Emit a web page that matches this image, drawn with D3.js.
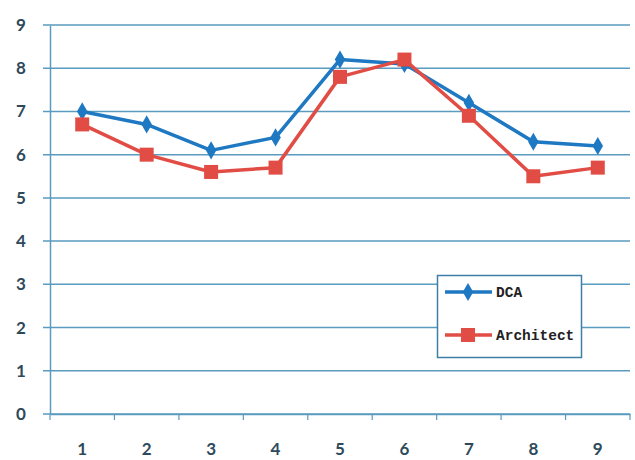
<!DOCTYPE html>
<html><head><meta charset="utf-8">
<script src="https://cdn.jsdelivr.net/npm/d3@7"></script>
<style>body{margin:0;background:#fff;}svg{display:block;}</style>
</head><body>
<script>
const categories = ["1","2","3","4","5","6","7","8","9"];
const dca = [7.0, 6.7, 6.1, 6.4, 8.2, 8.1, 7.2, 6.3, 6.2];
const architect = [6.7, 6.0, 5.6, 5.7, 7.8, 8.2, 6.9, 5.5, 5.7];
const yTicks = [0,1,2,3,4,5,6,7,8,9];
const seriesNames = ["DCA", "Architect"];

const W = 635, H = 460;
const m = {left: 50, right: 5, top: 25, bottom: 46};
const svg = d3.select("body").append("svg").attr("width", W).attr("height", H);
const x = d3.scaleBand().domain(categories).range([m.left, W - m.right]);
const y = d3.scaleLinear().domain([0, 9]).range([H - m.bottom, m.top]);
const gridColor = "#5a9bbf";
const textColor = "#2e4a5a";

// gridlines
svg.append("g").selectAll("line").data(yTicks).join("line")
  .attr("x1", m.left - 7).attr("x2", W - m.right)
  .attr("y1", d => y(d)).attr("y2", d => y(d))
  .attr("stroke", gridColor).attr("stroke-width", 1.5);

// y axis
const ya = svg.append("g").attr("transform", `translate(${m.left},0)`)
  .call(d3.axisLeft(y).tickValues(yTicks).tickSize(0).tickPadding(22));
ya.select(".domain").attr("stroke", gridColor).attr("stroke-width", 1.5);
ya.selectAll("text").attr("fill", textColor).attr("font-family", "Lato, 'Open Sans', sans-serif")
  .attr("font-weight", "bold").attr("font-size", 17).attr("text-anchor", "middle").attr("dx", 0)
  .attr("transform", "translate(-7,0)");

// x axis
const xTickPos = categories.map(c => x(c)).concat([x.range()[1]]);
svg.append("g").selectAll("line").data(xTickPos).join("line")
  .attr("x1", d => d).attr("x2", d => d)
  .attr("y1", y(0)).attr("y2", y(0) + 6)
  .attr("stroke", gridColor).attr("stroke-width", 1.2);
const xa = svg.append("g").attr("transform", `translate(0,${y(0)})`)
  .call(d3.axisBottom(x).tickSize(0).tickPadding(29));
xa.select(".domain").attr("stroke", gridColor).attr("stroke-width", 1.5);
xa.selectAll("text").attr("fill", textColor).attr("font-family", "Lato, 'Open Sans', sans-serif")
  .attr("font-weight", "bold").attr("font-size", 17);

const cx = c => x(c) + x.bandwidth() / 2;
const blue = "#1e78c2", red = "#e14d45";
const line = d3.line().x((d, i) => cx(categories[i])).y(d => y(d));

svg.append("path").datum(dca).attr("d", line).attr("fill", "none")
  .attr("stroke", blue).attr("stroke-width", 3.5).attr("stroke-linejoin", "round");
svg.append("path").datum(architect).attr("d", line).attr("fill", "none")
  .attr("stroke", red).attr("stroke-width", 3.5).attr("stroke-linejoin", "round");

const diamond = d3.symbol().type(d3.symbolDiamond).size(95);
svg.append("g").selectAll("path").data(dca).join("path")
  .attr("d", diamond).attr("fill", blue)
  .attr("transform", (d, i) => `translate(${cx(categories[i])},${y(d)})`);
svg.append("g").selectAll("rect").data(architect).join("rect")
  .attr("x", (d, i) => cx(categories[i]) - 7).attr("y", d => y(d) - 7)
  .attr("width", 14).attr("height", 14).attr("fill", red);

// legend
const lg = svg.append("g");
lg.append("rect").attr("x", 437.5).attr("y", 275.5).attr("width", 144).attr("height", 82)
  .attr("fill", "#fff").attr("stroke", "#3d7fa6").attr("stroke-width", 1.5);
const items = [{name: seriesNames[0], c: blue, ly: 292}, {name: seriesNames[1], c: red, ly: 335}];
items.forEach((it, k) => {
  lg.append("line").attr("x1", 445).attr("x2", 492).attr("y1", it.ly).attr("y2", it.ly)
    .attr("stroke", it.c).attr("stroke-width", 3.5);
  if (k === 0) {
    lg.append("path").attr("d", diamond).attr("fill", it.c).attr("transform", `translate(468,${it.ly})`);
  } else {
    lg.append("rect").attr("x", 461).attr("y", it.ly - 7).attr("width", 14).attr("height", 14).attr("fill", it.c);
  }
  lg.append("text").attr("x", 496).attr("y", it.ly + 5).text(it.name)
    .attr("font-family", "'Liberation Mono', 'DejaVu Sans Mono', monospace")
    .attr("font-weight", "bold").attr("font-size", 14.5).attr("fill", "#222");
});
</script>
</body></html>
